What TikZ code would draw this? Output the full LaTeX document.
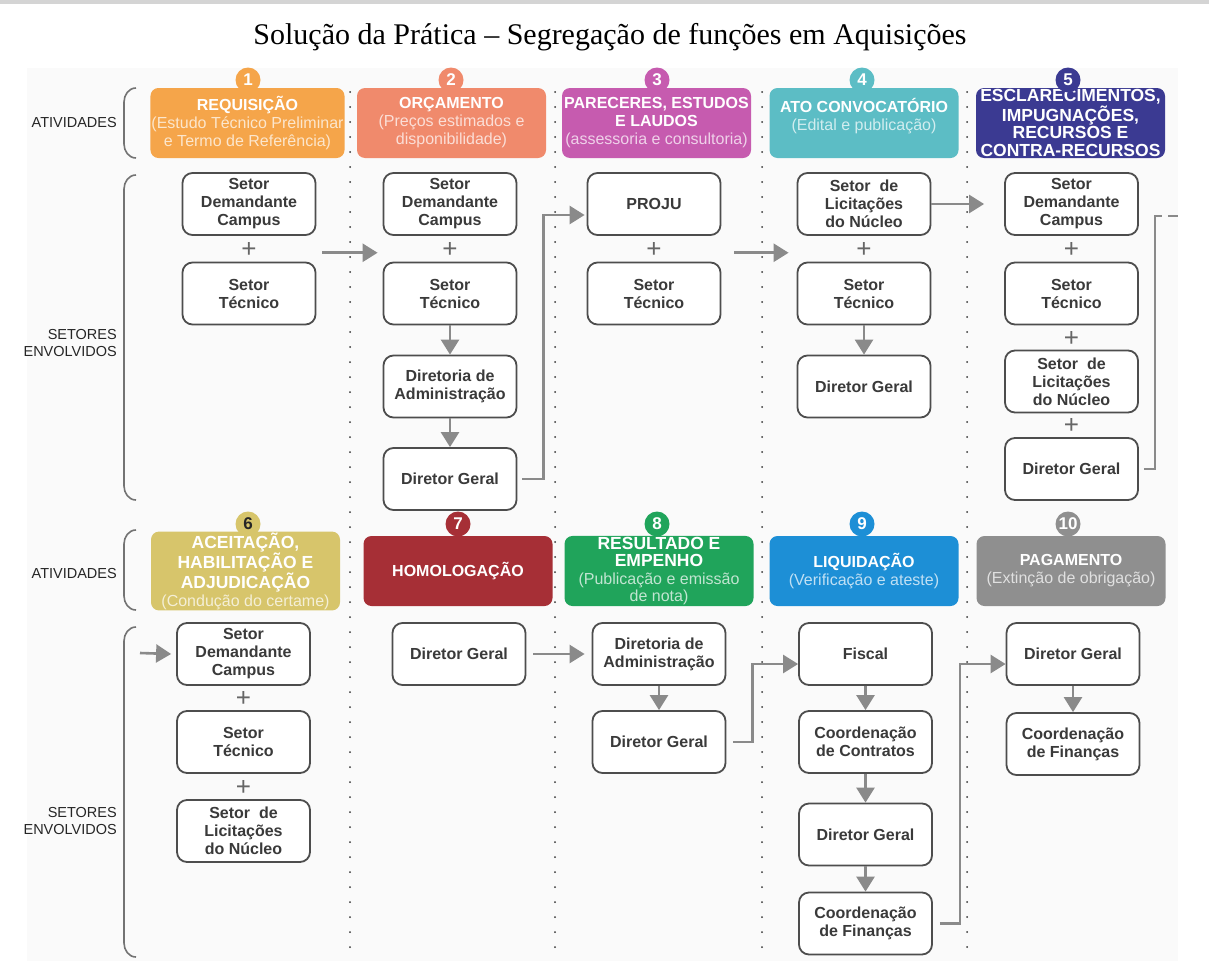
\documentclass[tikz,border=0pt]{standalone}
\usepackage{fontspec}
\setmainfont{Liberation Serif}
\setsansfont{Liberation Sans}
\usetikzlibrary{arrows.meta,calc}

% activity colours
\definecolor{c1}{HTML}{F5A54A}
\definecolor{c2}{HTML}{F08A6C}
\definecolor{c3}{HTML}{C65BAF}
\definecolor{c4}{HTML}{5CBDC5}
\definecolor{c5}{HTML}{3B3A92}
\definecolor{c6}{HTML}{D7C56B}
\definecolor{c7}{HTML}{A62F36}
\definecolor{c8}{HTML}{20A45B}
\definecolor{c9}{HTML}{1D8FD6}
\definecolor{c10}{HTML}{8F8F8F}
\definecolor{boxline}{HTML}{4D4D4D}
\definecolor{boxtext}{HTML}{3A3A3A}
\definecolor{flowgray}{HTML}{8A8A8A}

% lighter, regular-weight text for the subtitles of the activity headers
\newcommand\subt[2]{\textcolor{#1!28!white}{\mdseries\fontsize{16}{18}\selectfont #2}}

\begin{document}
\begin{tikzpicture}[
  x=1pt, y=-1pt,
  hdr/.style={rounded corners=8pt, fill=#1, minimum width=189pt, minimum height=70pt,
    inner sep=1pt, align=center, text=white,
    font=\sffamily\bfseries\fontsize{16}{18}\selectfont},
  tighthdr/.style={hdr=#1, font=\sffamily\bfseries\fontsize{17.5}{17.5}\selectfont},
  badge/.style={circle, fill=#1, minimum size=25pt, inner sep=0pt, text=white,
    font=\sffamily\bfseries\fontsize{17}{17}\selectfont},
  sbox/.style={draw=boxline, line width=1.8pt, rounded corners=10pt, fill=white,
    minimum width=133pt, minimum height=62pt, inner sep=2pt, align=center, text=boxtext,
    font=\sffamily\bfseries\fontsize{16}{18}\selectfont},
  plus/.style={text=black!60, font=\sffamily\fontsize{26}{26}\selectfont, inner sep=0pt},
  flow/.style={draw=flowgray, line width=2.6pt, -{Triangle[length=15pt,width=18pt]}},
  link/.style={draw=flowgray, line width=2.4pt},
  sep/.style={draw=black!80, line width=2pt, dash pattern=on 0pt off 15pt, line cap=round},
  brace/.style={draw=black!55, line width=1.6pt},
  side/.style={font=\sffamily\fontsize{14.5}{17.5}\selectfont, text=black!85, align=right,
    anchor=east, inner sep=0pt},
]
\useasboundingbox (0,0) rectangle (1209,961);
\fill[white] (0,0) rectangle (1209,961);
\fill[black!17] (0,0) rectangle (1209,4);
\fill[black!2] (27,68) rectangle (1178,961);

% title
\node (title) at (610,37) {\fontsize{30}{34}\selectfont Solução da Prática – Segregação de funções em Aquisições};

% column separators
\foreach \xx in {350,555,762,967} \draw[sep] (\xx,92) -- (\xx,961);

% row labels and brackets
\node[side] (lblA1) at (117,123) {ATIVIDADES};
\node[side] (lblS1) at (117,343) {SETORES\\ENVOLVIDOS};
\node[side] (lblA2) at (117,573) {ATIVIDADES};
\node[side] (lblS2) at (117,821) {SETORES\\ENVOLVIDOS};
\foreach \ya/\yb in {88/158, 175/500, 530/610, 627/957}
  \draw[brace] (136,\ya) to[out=180,in=90] (124,\ya+14) -- (124,\yb-14) to[out=-90,in=180] (136,\yb);

% ---------- activity headers, first row ----------
\node[hdr=c1] (h1) at (247.5,123) {REQUISIÇÃO\\\subt{c1}{(Estudo Técnico Preliminar}\\\subt{c1}{e Termo de Referência)}};
\node[hdr=c2] (h2) at (451.5,123) {ORÇAMENTO\\\subt{c2}{(Preços estimados e}\\\subt{c2}{disponibilidade)}};
\node[hdr=c3] (h3) at (656.5,123) {PARECERES, ESTUDOS\\E LAUDOS\\\subt{c3}{(assessoria e consultoria)}};
\node[hdr=c4] (h4) at (864,123) {ATO CONVOCATÓRIO\\\subt{c4}{(Edital e publicação)}\\\mbox{}};
\node[tighthdr=c5] (h5) at (1070.5,123) {ESCLARECIMENTOS,\\IMPUGNAÇÕES,\\RECURSOS E\\CONTRA-RECURSOS};
\node[badge=c1] (n1) at (248,80) {1};
\node[badge=c2] (n2) at (451,80) {2};
\node[badge=c3] (n3) at (657,80) {3};
\node[badge=c4] (n4) at (862,80) {4};
\node[badge=c5] (n5) at (1068,80) {5};

% ---------- activity headers, second row ----------
\node[tighthdr=c6] (h6) at (245.5,571) {ACEITAÇÃO,\\HABILITAÇÃO E\\ADJUDICAÇÃO\\\subt{c6}{(Condução do certame)}};
\node[hdr=c7] (h7) at (458,571) {HOMOLOGAÇÃO};
\node[tighthdr=c8] (h8) at (659,571) {RESULTADO E\\EMPENHO\\\subt{c8}{(Publicação e emissão}\\\subt{c8}{de nota)}};
\node[hdr=c9] (h9) at (864,571) {LIQUIDAÇÃO\\\subt{c9}{(Verificação e ateste)}};
\node[hdr=c10] (h10) at (1071,571) {PAGAMENTO\\\subt{c10}{(Extinção de obrigação)}};
\node[badge=c6, text=black!85] (n6) at (248,524) {6};
\node[badge=c7] (n7) at (458,524) {7};
\node[badge=c8] (n8) at (657,524) {8};
\node[badge=c9] (n9) at (862,524) {9};
\node[badge=c10] (n10) at (1068,524) {10};

% ---------- sectors, first row ----------
\node[sbox] (t1a) at (249,204) {Setor\\Demandante\\Campus};
\node[sbox] (t1b) at (249,293.5) {Setor\\Técnico};

\node[sbox] (t2a) at (450,204) {Setor\\Demandante\\Campus};
\node[sbox] (t2b) at (450,293.5) {Setor\\Técnico};
\node[sbox] (t2c) at (450,386.5) {Diretoria de\\Administração};
\node[sbox] (t2d) at (450,479) {Diretor Geral};

\node[sbox] (t3a) at (654,204) {PROJU};
\node[sbox] (t3b) at (654,293.5) {Setor\\Técnico};

\node[sbox] (t4a) at (864,204) {Setor~ de\\Licitações\\do Núcleo};
\node[sbox] (t4b) at (864,293.5) {Setor\\Técnico};
\node[sbox] (t4c) at (864,386.5) {Diretor Geral};

\node[sbox] (t5a) at (1071.5,204) {Setor\\Demandante\\Campus};
\node[sbox] (t5b) at (1071.5,293.5) {Setor\\Técnico};
\node[sbox] (t5c) at (1071.5,381.5) {Setor~ de\\Licitações\\do Núcleo};
\node[sbox] (t5d) at (1071.5,469) {Diretor Geral};

% ---------- sectors, second row ----------
\node[sbox] (b1a) at (243.5,654) {Setor\\Demandante\\Campus};
\node[sbox] (b1b) at (243.5,742) {Setor\\Técnico};
\node[sbox] (b1c) at (243.5,831) {Setor~ de\\Licitações\\do Núcleo};

\node[sbox] (b2a) at (459,654) {Diretor Geral};

\node[sbox] (b3a) at (659,654) {Diretoria de\\Administração};
\node[sbox] (b3b) at (659,742) {Diretor Geral};

\node[sbox] (b4a) at (865.5,654) {Fiscal};
\node[sbox] (b4b) at (865.5,742) {Coordenação\\de Contratos};
\node[sbox] (b4c) at (865.5,834.5) {Diretor Geral};
\node[sbox] (b4d) at (865.5,923.5) {Coordenação\\de Finanças};

\node[sbox] (b5a) at (1073,654) {Diretor Geral};
\node[sbox] (b5b) at (1073,744) {Coordenação\\de Finanças};

% ---------- "+" between sectors acting together ----------
\foreach \u/\v in {t1a/t1b, t2a/t2b, t3a/t3b, t4a/t4b, t5a/t5b, t5b/t5c, t5c/t5d, b1a/b1b, b1b/b1c}
  \node[plus] (p-\u) at ($(\u.south)!0.5!(\v.north)+(0,1)$) {+};

% ---------- flow inside a column ----------
\foreach \u/\v in {t2b/t2c, t2c/t2d, t4b/t4c, b3a/b3b, b4a/b4b, b4b/b4c, b4c/b4d, b5a/b5b}
  \draw[flow] (\u.south) -- (\v.north);

% ---------- flow between columns, first row ----------
\draw[flow] ($(t1a.south east)!0.5!(t1b.north east)+(6,4)$) -- ($(t2a.south west)!0.5!(t2b.north west)+(-5,4)$);
\draw[flow] ([xshift=5pt]t2d.east) -- ++(21,0) |- ([xshift=-2pt,yshift=-11pt]t3a.west);
\draw[flow] ($(t3a.south east)!0.5!(t3b.north east)+(13,4)$) -- ($(t4a.south west)!0.5!(t4b.north west)+(-8,4)$);
\draw[flow] (t4a.east) -- ([xshift=-20pt]t5a.west);
\coordinate (t5out) at (1178,216);
\draw[link] ([xshift=5pt]t5d.east) -| ([xshift=-23pt]t5out) -- ([xshift=-16pt]t5out);
\draw[link] ([xshift=-10pt]t5out) -- (t5out);

% ---------- flow between columns, second row ----------
\coordinate (b1in) at (140,653);
\draw[flow] (b1in) -- ([xshift=-5pt]b1a.west);
\draw[flow] ([xshift=7pt]b2a.east) -- ([xshift=-7pt]b3a.west);
\draw[flow] ([xshift=7pt]b3b.east) -- ++(19,0) |- ([yshift=-10pt]b4a.west);
\draw[flow] ([xshift=7pt]b4d.east) -- ++(20,0) |- ([yshift=-10pt]b5a.west);
\end{tikzpicture}
\end{document}
